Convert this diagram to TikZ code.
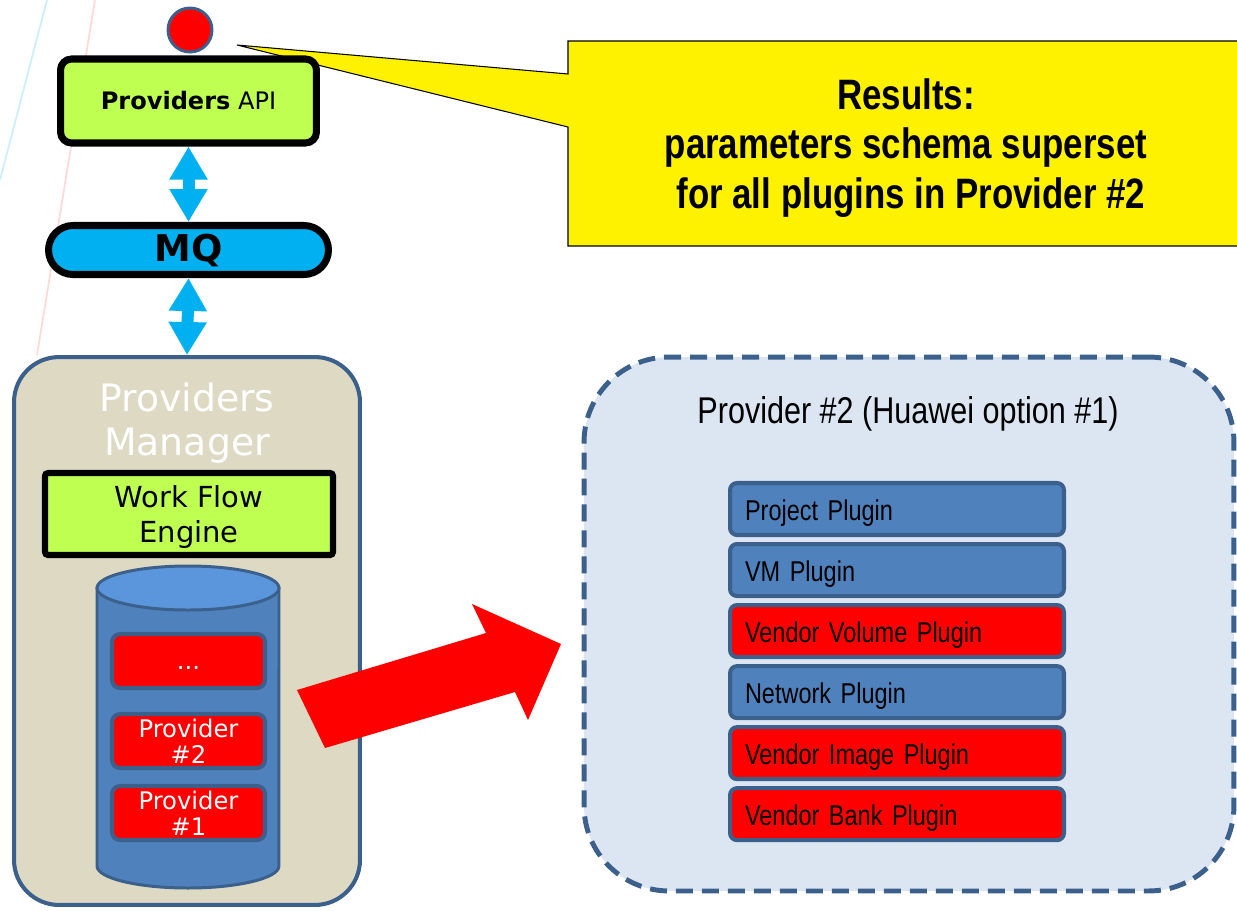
\documentclass[tikz,border=0pt]{standalone}
\usepackage{fontspec}
\setmainfont{DejaVu Sans}
\newfontfamily\narrowfont[FakeStretch=0.82]{Liberation Sans}
\usetikzlibrary{positioning,arrows.meta}

\definecolor{limegreen}{RGB}{191,255,82}
\definecolor{mqblue}{RGB}{0,176,240}
\definecolor{edgeblue}{RGB}{60,96,140}
\definecolor{managerbg}{RGB}{221,217,195}
\definecolor{cylbody}{RGB}{79,129,189}
\definecolor{cyltop}{RGB}{91,150,220}
\definecolor{panelbg}{RGB}{220,230,242}

\tikzset{
  apibox/.style={draw=black, line width=4pt, fill=limegreen, rounded corners=0.22cm, minimum width=5.12cm, minimum height=1.68cm, font=\fontsize{13.7}{16}\selectfont},
  bus/.style={draw=black, line width=4pt, fill=mqblue, rounded corners=0.49cm, minimum width=5.6cm, minimum height=0.98cm, font=\fontsize{21}{24}\selectfont\bfseries},
  updown/.style={mqblue, line width=0.24cm, {Triangle[length=0.66cm,width=0.72cm]}-{Triangle[length=0.66cm,width=0.72cm]}},
  manager/.style={draw=edgeblue, line width=2.3pt, fill=managerbg, rounded corners=0.9cm, minimum width=6.92cm, minimum height=10.96cm},
  engine/.style={draw=black, line width=3.5pt, fill=limegreen, rounded corners=0.06cm, minimum width=5.76cm, minimum height=1.64cm, align=center, font=\fontsize{16.5}{19.8}\selectfont},
  slot/.style={draw=edgeblue, line width=2.3pt, fill=red, rounded corners=0.16cm, minimum width=3.06cm, minimum height=1.08cm, inner sep=1pt, text=white, align=center, font=\fontsize{13.8}{14.6}\selectfont},
  panel/.style={draw=edgeblue, line width=2.8pt, dash pattern=on 0.34cm off 0.18cm, fill=panelbg, rounded corners=1.7cm, minimum width=13cm, minimum height=10.68cm},
  plugin/.style={draw=edgeblue, line width=2.3pt, fill=cylbody, rounded corners=0.14cm, text width=6.08cm, inner xsep=0.3cm, minimum height=1.04cm, text height=12.8pt, text depth=0pt, align=left, font=\narrowfont\fontsize{16.3}{19}\selectfont},
  vendor/.style={plugin, fill=red}
}

\begin{document}
\begin{tikzpicture}[x=0.02cm, y=-0.02cm, node distance=0.1cm]
  \useasboundingbox (0,0) rectangle (1237,910);

  % faint slide background lines
  \draw[cyan!20, line width=1pt] (47,0) -- (0,180);
  \draw[red!15, line width=1pt] (95,0) -- (37,355);

  % callout
  \filldraw[fill=yellow, draw=black, line width=0.6pt] (568,41) -- (1245,41) -- (1245,246) -- (568,246) -- (568,127) -- (237,45) -- (568,74) -- cycle;
  \node[align=center, font=\narrowfont\bfseries\fontsize{24.2}{28.4}\selectfont] (results) at (906,148) {Results:\\parameters schema superset\\ \ for all plugins in Provider \#2};

  % left column
  \node[circle, draw=edgeblue, line width=1.7pt, fill=red, minimum size=0.88cm, inner sep=0pt] (dot) at (190,30) {};
  \node[apibox] (api) at (188.5,101) {\textbf{Providers} API};
  \node[bus] (mq) at (188.5,250) {MQ};
  \node[manager] (manager) at (187,631) {};
  \node[text=white, align=center, font=\fontsize{21.5}{25}\selectfont] (mgrtitle) at (187,423) {Providers\\Manager};
  \node[engine] (engine) at (189,514) {\rule{0pt}{16pt}Work Flow\\Engine};

  \draw[updown] (api.south) -- (mq.north);
  \draw[updown] (mq.south) -- (manager.north);

  % provider store
  \filldraw[fill=cylbody, draw=edgeblue, line width=1.7pt] (97,588) -- (97,866) arc[start angle=180, end angle=360, x radius=1.82cm, y radius=0.44cm] -- (279,588) -- cycle;
  \filldraw[fill=cyltop, draw=edgeblue, line width=1.7pt] (188,588) ellipse[x radius=1.82cm, y radius=0.44cm];
  \node[slot] (dots) at (188.5,661) {\vphantom{P}...};
  \node[slot] (prov2) at (188.5,741) {Provider\\\#2};
  \node[slot] (prov1) at (188.5,813) {Provider\\\#1};

  % big arrow
  \fill[red] (297,690) -- (486,633) -- (472,604) -- (561,644) -- (528,720) -- (515,692) -- (325,748) -- cycle;

  % provider #2 plugins
  \node[panel] (panel) at (909,624) {};
  \node[font=\narrowfont\fontsize{21.2}{25}\selectfont] (paneltitle) at (908,414) {Provider \#2 (Huawei option \#1)};
  \node[plugin] (project) at (897,509) {Project Plugin};
  \node[plugin, below=of project] (vm) {VM Plugin};
  \node[vendor, below=of vm] (volume) {Vendor Volume Plugin};
  \node[plugin, below=of volume] (network) {Network Plugin};
  \node[vendor, below=of network] (image) {Vendor Image Plugin};
  \node[vendor, below=of image] (bank) {Vendor Bank Plugin};
\end{tikzpicture}
\end{document}
